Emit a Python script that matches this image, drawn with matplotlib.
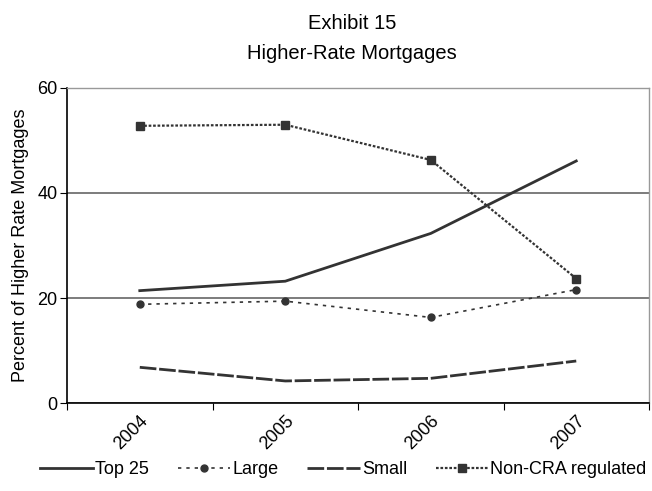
import matplotlib
matplotlib.use("Agg")
import matplotlib.pyplot as plt

plt.rcParams['font.family'] = ["Liberation Sans", "DejaVu Sans"]

years = ["2004", "2005", "2006", "2007"]
top25 = [21.4, 23.2, 32.3, 46.1]
large = [18.8, 19.4, 16.3, 21.6]
small = [6.8, 4.2, 4.7, 8.0]
noncra = [52.8, 53.0, 46.3, 23.7]
yticks = [0, 20, 40, 60]

fig = plt.figure(figsize=(6.52, 4.91), dpi=100)
ax = fig.add_axes([0.1028, 0.1792, 0.8926, 0.6416])

x = [i + 0.5 for i in range(len(years))]
dark = "#333333"
l1, = ax.plot(x, top25, color=dark, lw=2, label="Top 25")
l2, = ax.plot(x, large, color=dark, lw=1.2, ls=(0, (2, 3)), marker="o", ms=5, label="Large")
l3, = ax.plot(x, small, color=dark, lw=2, ls=(0, (6, 1)), label="Small")
l4, = ax.plot(x, noncra, color=dark, lw=1.6, ls=(0, (1.2, 0.8)), marker="s", ms=6, label="Non-CRA regulated")

ax.set_xlim(0, 4)
ax.set_ylim(0, 60)
ax.set_yticks(yticks)
ax.set_xticks([0, 1, 2, 3, 4])
ax.set_xticklabels([])
ax.set_xticks(x, minor=True)
ax.set_xticklabels(years, minor=True, rotation=45, ha="right", va="top",
                   rotation_mode="anchor", fontsize=13)
ax.tick_params(axis="x", which="minor", length=0, pad=7)
ax.tick_params(axis="x", which="major", length=5, direction="out", color="black")
ax.tick_params(axis="y", length=5, direction="out", labelsize=13, pad=2)

ax.grid(axis="y", color="#666666", lw=1.2)
ax.set_axisbelow(True)
for s in ["top", "right"]:
    ax.spines[s].set_color("#999999")
    ax.spines[s].set_linewidth(1)
for s in ["left", "bottom"]:
    ax.spines[s].set_color("black")
    ax.spines[s].set_linewidth(1.2)

ax.set_ylabel("Percent of Higher Rate Mortgages", fontsize=13, labelpad=6)

fig.text(0.54, 0.952, "Exhibit 15", ha="center", va="center", fontsize=14.5)
fig.text(0.54, 0.892, "Higher-Rate Mortgages", ha="center", va="center", fontsize=14.5)

fig.legend(handles=[l1, l2, l3, l4], loc="center left", bbox_to_anchor=(0.062, 0.043), ncol=4,
           frameon=False, fontsize=13, handlelength=2.9, handletextpad=0.12, columnspacing=1.6,
           borderpad=0, borderaxespad=0)

fig.savefig("out.png", dpi=100)
